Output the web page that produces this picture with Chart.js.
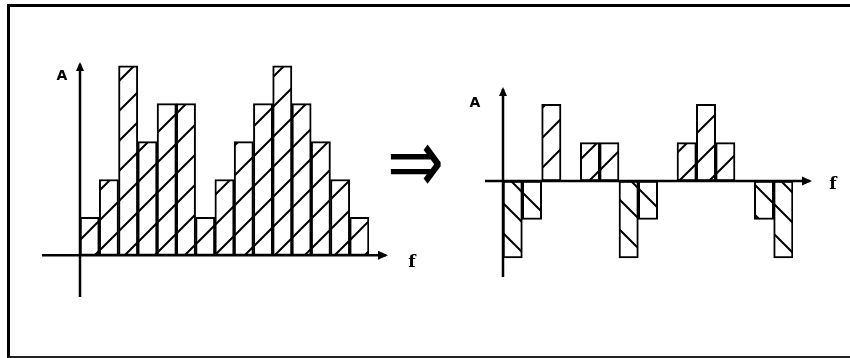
<!DOCTYPE html>
<html>
<head>
<meta charset="utf-8">
<script src="https://cdn.jsdelivr.net/npm/chart.js@4/dist/chart.umd.min.js"></script>
<style>
  body { margin: 0; background: #fff; width: 850px; height: 358px; overflow: hidden; position: relative; }
  #frame { position: absolute; left: 7px; top: 4px; width: 850px; height: 349px;
           border-left: 3px solid #000; border-top: 3px solid #000; border-bottom: 2px solid #222; }
  canvas { position: absolute; }
  #c1 { left: 30px; top: 50px; }
  #c2 { left: 460px; top: 70px; }
  #arrow { position: absolute; left: 387px; top: 128px; font: 68px 'DejaVu Sans'; line-height: 1; color: #000;
           transform: scale(1, 1.35); transform-origin: 0 50%; }
</style>
</head>
<body>
<div id="frame"></div>
<canvas id="c1" width="400" height="260"></canvas>
<div id="arrow">⇒</div>
<canvas id="c2" width="390" height="230"></canvas>
<script>
// data
var bins = ['1','2','3','4','5','6','7','8','9','10','11','12','13','14','15'];
var inputVals = [1, 2, 5, 3, 4, 4, 1, 2, 3, 4, 5, 4, 3, 2, 1];
var outputVals = [-2, -1, 2, 0, 1, 1, -2, -1, 0, 1, 2, 1, 0, -1, -2];
var yLabel = 'A';
var xLabel = 'f';

// hatch fills, dir 1 = "/", dir -1 = "\"
function hatch(dir) {
    var s = 30;
    var c = document.createElement('canvas');
    c.width = s; c.height = s;
    var g = c.getContext('2d');
    g.fillStyle = '#fff';
    g.fillRect(0, 0, s, s);
    g.strokeStyle = '#000';
    g.lineWidth = 2;
    g.beginPath();
    if (dir > 0) {
        g.moveTo(0, s); g.lineTo(s, 0);
        g.moveTo(-2, 2); g.lineTo(2, -2);
        g.moveTo(s - 2, s + 2); g.lineTo(s + 2, s - 2);
    } else {
        g.moveTo(0, 0); g.lineTo(s, s);
        g.moveTo(s - 2, -2); g.lineTo(s + 2, 2);
        g.moveTo(-2, s - 2); g.lineTo(2, s + 2);
    }
    g.stroke();
    return c;
}

// axis lines with arrows, drawn from the scales
var axesPlugin = {
    id: 'axes',
    afterDatasetsDraw: function(chart, args, o) {
        var ctx = chart.ctx, x = chart.scales.x, y = chart.scales.y;
        var x0 = x.left, y0 = y.getPixelForValue(0);
        ctx.save();
        ctx.strokeStyle = '#000';
        ctx.fillStyle = '#000';
        ctx.lineWidth = 2.5;
        ctx.beginPath();
        ctx.moveTo(x0, y.bottom); ctx.lineTo(x0, y.top + 2);
        ctx.moveTo(x0 - o.back, y0); ctx.lineTo(x.right + o.ahead - 2, y0);
        ctx.stroke();
        // arrow heads
        ctx.beginPath();
        ctx.moveTo(x0, y.top); ctx.lineTo(x0 - 4, y.top + 9); ctx.lineTo(x0 + 4, y.top + 9); ctx.closePath();
        var xe = x.right + o.ahead;
        ctx.moveTo(xe, y0); ctx.lineTo(xe - 10, y0 - 4.5); ctx.lineTo(xe - 10, y0 + 4.5); ctx.closePath();
        ctx.fill();
        ctx.font = 'bold 14px "DejaVu Sans"';
        ctx.textAlign = 'center';
        ctx.textBaseline = 'middle';
        ctx.fillText(yLabel, x0 + o.ylx, y.top + o.yly);
        ctx.font = 'bold 17px "DejaVu Serif"';
        ctx.fillText(xLabel, x.right + o.xlx, y0 + o.xly);
        ctx.restore();
    }
};

function makeChart(id, vals, colors, yMin, yMax, pad, ax) {
    return new Chart(document.getElementById(id), {
        type: 'bar',
        data: {
            labels: bins,
            datasets: [{
                data: vals,
                backgroundColor: colors,
                borderColor: '#000',
                borderWidth: 2,
                borderSkipped: false,
                barPercentage: 1,
                categoryPercentage: 1
            }]
        },
        options: {
            responsive: false,
            animation: false,
            layout: { padding: pad },
            scales: {
                x: { display: false },
                y: { display: false, min: yMin, max: yMax }
            },
            plugins: {
                legend: { display: false },
                tooltip: { enabled: false },
                axes: ax
            }
        },
        plugins: [axesPlugin]
    });
}

var fwd = hatch(1), back = hatch(-1);
var ctx1 = document.getElementById('c1').getContext('2d');
var ctx2 = document.getElementById('c2').getContext('2d');
var pFwd1 = ctx1.createPattern(fwd, 'repeat');
var pFwd2 = ctx2.createPattern(fwd, 'repeat');
var pBack2 = ctx2.createPattern(back, 'repeat');

makeChart('c1', inputVals, inputVals.map(function() { return pFwd1; }),
    -1.1, 5.1, { left: 50, right: 61, top: 12, bottom: 13 },
    { back: 38, ahead: 19, ylx: -18, yly: 14, xlx: 43, xly: 7 });

makeChart('c2', outputVals, outputVals.map(function(v) { return v < 0 ? pBack2 : pFwd2; }),
    -2.5, 2.45, { left: 43, right: 57, top: 17, bottom: 23 },
    { back: 18, ahead: 19, ylx: -28, yly: 16, xlx: 40, xly: 4 });
</script>
</body>
</html>
